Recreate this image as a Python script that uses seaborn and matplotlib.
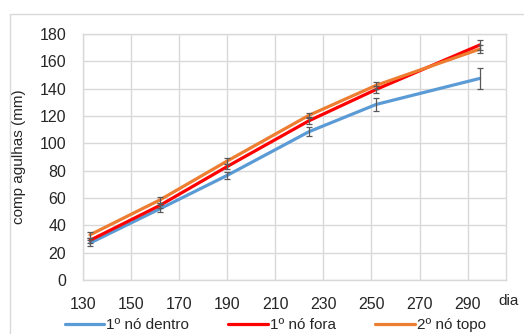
import numpy as np
import pandas as pd
import seaborn as sns
import matplotlib.pyplot as plt
from matplotlib.patches import Rectangle

# values
dias = [133, 162, 190, 224, 252, 295]
series = ['1º nó dentro', '1º nó fora', '2º nó topo']
dentro = [27, 52, 76.5, 108.5, 128.5, 147.5]
fora = [29, 54.5, 83, 116.5, 139.5, 172]
topo = [33, 58.5, 87, 120.5, 142.5, 169]
err_dentro = [2.5, 2.5, 2.5, 3.5, 4.5, 7.5]
err_fora = [2, 2, 2, 2.5, 2.5, 4]
err_topo = [2, 2, 2, 2, 2.5, 3]
cores = ['#5B9BD5', '#FF0000', '#ED7D31']

df = pd.DataFrame({
    'dia': dias * 3,
    'comp': dentro + fora + topo,
    'err': err_dentro + err_fora + err_topo,
    'serie': [s for s in series for _ in dias],
})

sns.set_style('white')
plt.rcParams['font.family'] = ['Liberation Sans', 'DejaVu Sans']
plt.rcParams['font.size'] = 11

fig = plt.figure(figsize=(5.24, 3.34), dpi=100)
ax = fig.add_axes([0.158, 0.162, 0.808, 0.736])

# outer chart border (cropped at right and bottom)
fig.patches.append(Rectangle((10 / 524, -0.1), 1.2, 1 - 14 / 334 + 0.1, transform=fig.transFigure,
                             fill=False, edgecolor='#D9D9D9', linewidth=1.0))

sns.lineplot(data=df, x='dia', y='comp', hue='serie', palette=cores, linewidth=2.3,
             ax=ax, legend=False, sort=False)

# error bars
for s in series:
    sub = df[df['serie'] == s]
    ax.errorbar(sub['dia'], sub['comp'], yerr=sub['err'], fmt='none', ecolor='#595959',
                elinewidth=0.9, capsize=2.5, capthick=0.9, zorder=5)

ax.set_xlim(130, 306)
ax.set_ylim(0, 180)
ax.set_xticks(range(130, 300, 20))
ax.set_yticks(range(0, 181, 20))
ax.grid(True, color='#D9D9D9', linewidth=1.0)
ax.set_axisbelow(True)
for sp in ax.spines.values():
    sp.set_color('#D9D9D9')
    sp.set_linewidth(1.0)
ax.tick_params(length=0, pad=12, labelsize=11.5)
ax.set_xlabel('')
ax.set_ylabel('comp agulhas (mm)', fontsize=11)
ax.yaxis.set_label_coords(-0.135, 0.5)
fig.text(498 / 524, 1 - 301 / 334, 'dia', fontsize=11, va='center', ha='left')

handles = [plt.Line2D([], [], color=c, linewidth=2.3) for c in cores]
fig.legend(handles, series, loc='center', bbox_to_anchor=(0.525, 1 - 325 / 334), ncol=3,
           frameon=False, fontsize=11, handlelength=2.6, handletextpad=0.1, columnspacing=2.6)

fig.savefig('out.png', dpi=100)
